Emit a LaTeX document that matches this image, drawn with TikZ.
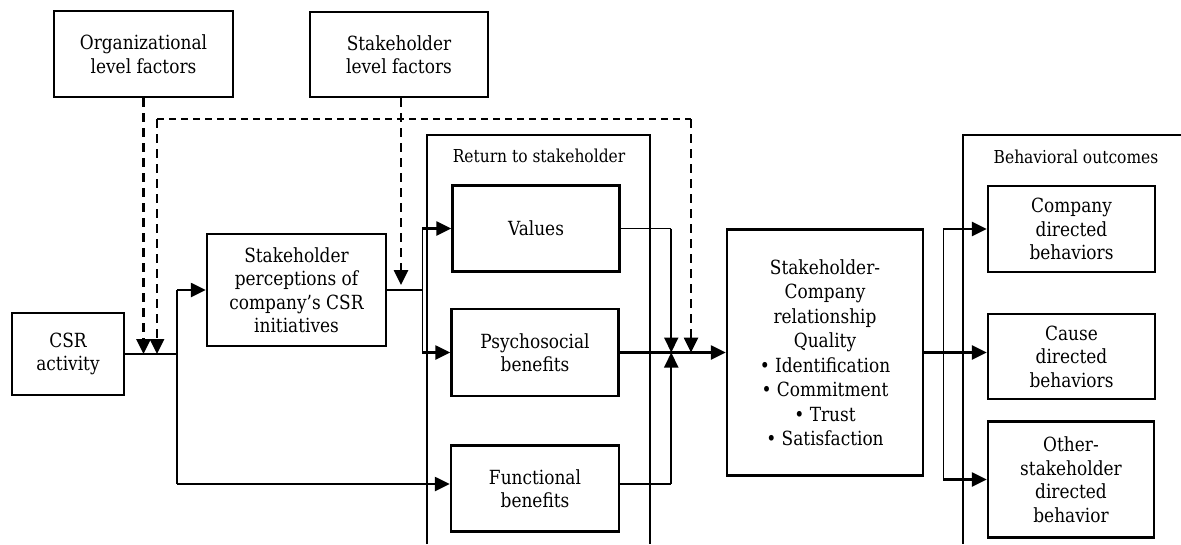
\documentclass[tikz,border=0pt]{standalone}
\usepackage{fontspec}
\setmainfont{DejaVu Serif}[FakeStretch=0.87]
\usetikzlibrary{arrows.meta}
\tikzset{
  box/.style={draw, line width=2.5pt, align=center, inner sep=0pt,
    font=\fontsize{19.5}{23.5}\selectfont},
  grptitle/.style={inner sep=0pt, font=\fontsize{17.8}{19}\selectfont},
  frame/.style={line width=2.5pt},
  thinline/.style={line width=1.4pt},
  thickline/.style={line width=2.6pt},
  medline/.style={line width=2pt},
  arr/.style={-{Triangle[length=15pt,width=14pt]}},
  dthick/.style={line width=2.6pt, dash pattern=on 9pt off 6pt},
  dthin/.style={line width=1.4pt, dash pattern=on 7pt off 5pt}
}
\begin{document}
\begin{tikzpicture}[x=1pt,y=-1pt]
\useasboundingbox (0,0) rectangle (1181,544);

% group frames
\draw[frame] (427,544) -- (427,135) -- (650,135) -- (650,544);
\draw[frame] (1181,135) -- (963,135) -- (963,544);
\node[grptitle] (rettitle) at (539,156) {Return to stakeholder};
\node[grptitle] (outtitle) at (1076,157) {Behavioral outcomes};

% boxes
\node[box, minimum width=179pt, minimum height=86pt] (org) at (143.5,54) {Organizational\\level factors};
\node[box, minimum width=178pt, minimum height=85pt] (stk) at (399,54.5) {Stakeholder\\level factors};
\node[box, minimum width=112pt, minimum height=82pt] (csr) at (68,354) {CSR\\activity};
\node[box, minimum width=179pt, minimum height=112pt] (perc) at (296.5,290) {Stakeholder\\perceptions of\\company’s CSR\\initiatives};
\node[box, minimum width=167pt, minimum height=86pt] (val) at (536,228.5) {Values};
\node[box, minimum width=167pt, minimum height=87pt] (psy) at (535,352.5) {Psychosocial\\benefits};
\node[box, minimum width=168pt, minimum height=86pt] (fun) at (535,488.5) {Functional\\benefits};
\node[box, minimum width=196pt, minimum height=246pt, font=\fontsize{19.5}{24.5}\selectfont] (rel) at (825,352.5) {Stakeholder-\\Company\\relationship\\Quality\\• Identification\\• Commitment\\• Trust\\• Satisfaction};
\node[box, minimum width=167pt, minimum height=86pt] (comp) at (1071.5,229) {Company\\directed\\behaviors};
\node[box, minimum width=167pt, minimum height=85pt] (cause) at (1071.5,356.5) {Cause\\directed\\behaviors};
\node[box, minimum width=166pt, minimum height=116pt] (oth) at (1071,479.5) {Other-\\stakeholder\\directed\\behavior};

% coordinates
\coordinate (j1) at (177,354);
\coordinate (j1u) at (j1 |- perc.west);
\coordinate (funin) at ([yshift=4.5pt]fun.west);
\coordinate (funout) at ([yshift=4.5pt]fun.east);
\coordinate (j1d) at (j1 |- funin);
\path (perc.east) ++(35,0) coordinate (j2);
\path (psy.east) ++(51.5,0) coordinate (m);
\path (rel.east) ++(19,0) coordinate (j3);
\coordinate (d1) at (157,119);
\coordinate (d2) at (691,119);
\coordinate (stktip) at (401,285);

% CSR activity connectors
\draw[thinline] (csr.east) -- (j1);
\draw[thinline] (j1u) -- (j1d);
\draw[thickline,arr] (j1u) -- (perc.west);
\draw[thickline,arr] (j1d) -- (funin);

% perceptions to returns
\draw[thinline] (perc.east) -- (j2);
\draw[thinline] (j2 |- val.west) -- (j2 |- psy.west);
\draw[thickline,arr] (j2 |- val.west) -- (val.west);
\draw[thickline,arr] (j2 |- psy.west) -- (psy.west);

% returns to relationship
\draw[thinline] (val.east) -- (val.east -| m);
\draw[medline,arr] (val.east -| m) -- (m);
\draw[thinline] (funout) -- (funout -| m);
\draw[medline,arr] (funout -| m) -- (m);
\draw[thickline,arr] (psy.east) -- (rel.west);

% moderators (dashed)
\draw[dthick,arr] (org.south) -- (org.south |- j1);
\draw[dthin] (d1) -- (d2);
\draw[dthick,arr] (d1) -- (d1 |- j1);
\draw[dthick,arr] (d2) -- (d2 |- psy.east);
\draw[dthick,arr] (stk.south -| stktip) -- (stktip);

% relationship to outcomes
\draw[thickline,arr] (rel.east) -- (rel.east -| cause.west);
\draw[thinline] (j3 |- comp.west) -- (j3 |- oth.west);
\draw[thickline,arr] (j3 |- comp.west) -- (comp.west);
\draw[thickline,arr] (j3 |- oth.west) -- (oth.west);
\end{tikzpicture}
\end{document}
